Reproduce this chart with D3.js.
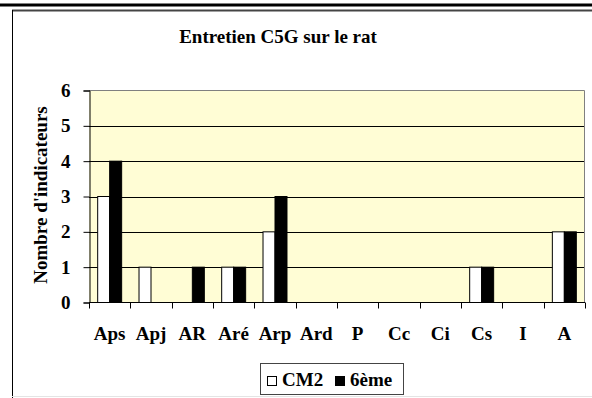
<!DOCTYPE html>
<html>
<head>
<meta charset="utf-8">
<script src="https://cdn.jsdelivr.net/npm/d3@7"></script>
<style>
  html, body { margin: 0; padding: 0; background: #fff; }
  svg { display: block; }
</style>
</head>
<body>
<svg id="chart" width="592" height="398"></svg>
<script>
// Indicator categories along the x axis
const categories = ["Aps", "Apj", "AR", "Aré", "Arp", "Ard", "P", "Cc", "Ci", "Cs", "I", "A"];
// Number of indicators per category for each class level
const seriesNames = ["CM2", "6ème"];
const cm2Values = [3, 1, 0, 1, 2, 0, 0, 0, 0, 1, 0, 2];
const sixiemeValues = [4, 0, 1, 1, 3, 0, 0, 0, 0, 1, 0, 2];
const yTicks = [0, 1, 2, 3, 4, 5, 6];
const titleText = "Entretien C5G sur le rat";
const yTitle = "Nombre d'indicateurs";

const seriesValues = [cm2Values, sixiemeValues];
const seriesFill = ["#ffffff", "#000000"];
const FONT = "'Times New Roman', 'Liberation Serif', Tinos, 'DejaVu Serif', serif";
const FS = 19;

const svg = d3.select("#chart");

// Page frame: thick rule at the top and the chart container box
svg.append("line").attr("x1", 0).attr("x2", 592).attr("y1", 5).attr("y2", 5)
  .attr("stroke", "#000").attr("stroke-width", 3);
svg.append("line").attr("x1", 12).attr("x2", 592).attr("y1", 10.5).attr("y2", 10.5)
  .attr("stroke", "#444").attr("stroke-width", 2);
svg.append("line").attr("x1", 12.5).attr("x2", 12.5).attr("y1", 10).attr("y2", 398)
  .attr("stroke", "#000").attr("stroke-width", 1);
svg.append("line").attr("x1", 12).attr("x2", 592).attr("y1", 396.5).attr("y2", 396.5)
  .attr("stroke", "#e4e4e4").attr("stroke-width", 1);

// Plot area geometry
const plot = { left: 89, right: 585, top: 90.5, bottom: 302.5 };

const x0 = d3.scaleBand().domain(categories).range([plot.left, plot.right]).padding(0);
const bw = x0.bandwidth();
const x1 = d3.scaleBand().domain(seriesNames).range([bw * 0.21, bw * 0.79]).padding(0);
const y = d3.scaleLinear().domain([0, 6]).range([plot.bottom, plot.top]);

// Plot background
svg.append("rect")
  .attr("x", plot.left).attr("y", plot.top)
  .attr("width", plot.right - plot.left).attr("height", plot.bottom - plot.top)
  .attr("fill", "#fffdd5");

// Horizontal grid lines
svg.append("g").selectAll("line").data(yTicks.filter(d => d > 0 && d < 6)).join("line")
  .attr("x1", plot.left).attr("x2", plot.right)
  .attr("y1", d => Math.round(y(d)) + 0.5).attr("y2", d => Math.round(y(d)) + 0.5)
  .attr("stroke", "#000").attr("stroke-width", 1);

// Plot area border on top and right
svg.append("path")
  .attr("d", `M${plot.left},${plot.top}H${plot.right - 0.5}V${plot.bottom}`)
  .attr("fill", "none").attr("stroke", "#808080").attr("stroke-width", 1);

// Bars
const groups = svg.append("g").selectAll("g").data(categories).join("g")
  .attr("transform", d => `translate(${x0(d)},0)`);
groups.selectAll("rect")
  .data((c, i) => seriesNames.map((s, k) => ({ s, k, v: seriesValues[k][i] })).filter(d => d.v > 0))
  .join("rect")
  .attr("x", d => x1(d.s))
  .attr("y", d => y(d.v))
  .attr("width", x1.bandwidth())
  .attr("height", d => y(0) - y(d.v))
  .attr("fill", d => seriesFill[d.k])
  .attr("stroke", "#000").attr("stroke-width", 1);

// Y axis
const yAxis = d3.axisLeft(y).tickValues(yTicks).tickSize(6).tickPadding(13).tickFormat(d3.format("d"));
const gy = svg.append("g").attr("transform", `translate(${plot.left + 0.5},0)`).call(yAxis);
gy.attr("font-family", FONT).attr("font-size", FS).attr("font-weight", "bold");
gy.selectAll("path,line").attr("stroke", "#000");
gy.selectAll("text").attr("fill", "#000");

// X axis with ticks at category boundaries
const gx = svg.append("g").attr("transform", `translate(0,${plot.bottom})`)
  .attr("font-family", FONT).attr("font-weight", "bold");
gx.append("line").attr("x1", plot.left).attr("x2", plot.right).attr("stroke", "#000");
const boundaries = categories.map(c => x0(c)).concat([plot.right]);
gx.selectAll("line.tick").data(boundaries).join("line").attr("class", "tick")
  .attr("x1", d => Math.round(d) + 0.5).attr("x2", d => Math.round(d) + 0.5)
  .attr("y1", 0).attr("y2", 6).attr("stroke", "#000");
gx.selectAll("text").data(categories).join("text")
  .attr("x", d => x0(d) + bw / 2).attr("y", 37.5)
  .attr("text-anchor", "middle").attr("font-size", FS)
  .text(d => d);

// Titles
svg.append("text").attr("x", 278).attr("y", 43).attr("text-anchor", "middle")
  .attr("font-family", FONT).attr("font-weight", "bold")
  .attr("font-size", FS).text(titleText);
svg.append("text").attr("transform", "translate(47,195) rotate(-90)")
  .attr("font-family", FONT).attr("font-weight", "bold")
  .attr("text-anchor", "middle").attr("font-size", FS).text(yTitle);

// Legend
const legend = svg.append("g").attr("font-family", FONT).attr("font-weight", "bold");
legend.append("rect").attr("x", 260.5).attr("y", 363.5).attr("width", 143).attr("height", 31)
  .attr("fill", "#fff").attr("stroke", "#444").attr("stroke-width", 1);
const legendX = [267, 335];
seriesNames.forEach((s, k) => {
  legend.append("rect").attr("x", legendX[k] + 0.5).attr("y", 376.5).attr("width", 9).attr("height", 9)
    .attr("fill", seriesFill[k]).attr("stroke", "#000");
  legend.append("text").attr("x", legendX[k] + 15).attr("y", 386).attr("font-size", FS).text(s);
});
</script>
</body>
</html>
